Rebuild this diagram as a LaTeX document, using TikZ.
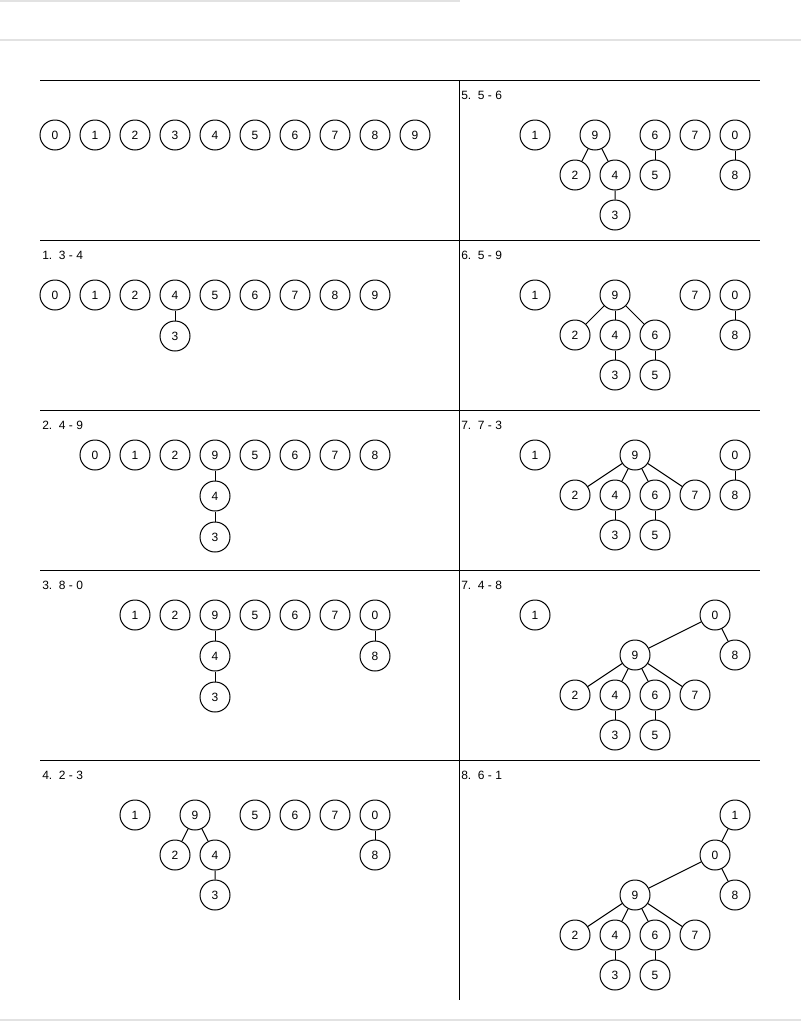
\documentclass[tikz,border=0pt]{standalone}
\usepackage{fontspec}
\setmainfont{Liberation Sans}
\usepackage{tikz}
\usetikzlibrary{positioning}
\definecolor{rule}{HTML}{E2E2E2}

\begin{document}
\begin{tikzpicture}[
  x=0.75pt,y=-0.75pt,
  font=\fontsize{9}{11}\selectfont,
  set/.style={draw,circle,minimum size=22.5pt,inner sep=0pt,line width=0.75pt},
  lbl/.style={anchor=west,inner sep=0pt},
  link/.style={draw,line width=0.75pt},
  frame/.style={draw,line width=0.75pt}
]
\useasboundingbox (0,0) rectangle (801,1021);
% ---- screen rules
\draw[rule,line width=0.9pt] (0,1) -- (460,1);
\draw[rule,line width=0.9pt] (0,40) -- (801,40);
\draw[rule,line width=0.9pt] (0,1020) -- (801,1020);

% ---- grid
\coordinate (gtl) at (40,80);
\coordinate (gtr) at (760,80);
\coordinate (gtop) at (459,80);
\coordinate (gbot) at (459,1000);
\draw[frame] (gtl) -- (gtr);
\foreach \yy in {240,410,570,760}
  \draw[frame] (40,\yy) -- (760,\yy);
\draw[frame] (gtop) -- (gbot);

% ---- panel 0: start
\foreach \v [count=\i from 0] in {0,...,9}
  \node[set] (a\v) at (55+40*\i,135) {\v};

% ---- panel 1: 3 - 4
\node[lbl] (l1) at (42,255) {1.\hspace{5pt}3 - 4};
\foreach \v [count=\i from 0] in {0,1,2,4,5,6,7,8,9}
  \node[set] (b\v) at (55+40*\i,295) {\v};
\node[set,below=7.5pt of b4] (b3) {3};
\draw[link] (b4) -- (b3);

% ---- panel 2: 4 - 9
\node[lbl] (l2) at (42,425) {2.\hspace{5pt}4 - 9};
\foreach \v [count=\i from 0] in {0,1,2,9,5,6,7,8}
  \node[set] (c\v) at (95+40*\i,455) {\v};
\node[set,below=7.5pt of c9] (c4) {4};
\node[set,below=7.5pt of c4] (c3) {3};
\draw[link] (c9) -- (c4) -- (c3);

% ---- panel 3: 8 - 0
\node[lbl] (l3) at (42,585) {3.\hspace{5pt}8 - 0};
\foreach \v [count=\i from 0] in {1,2,9,5,6,7,0}
  \node[set] (d\v) at (135+40*\i,615) {\v};
\node[set,below=7.5pt of d9] (d4) {4};
\node[set,below=7.5pt of d4] (d3) {3};
\node[set,below=7.5pt of d0] (d8) {8};
\draw[link] (d9) -- (d4) -- (d3);
\draw[link] (d0) -- (d8);

% ---- panel 4: 2 - 3
\node[lbl] (l4) at (42,775) {4.\hspace{5pt}2 - 3};
\node[set] (e1) at (135,815) {1};
\node[set] (e9) at (195,815) {9};
\foreach \v [count=\i from 0] in {5,6,7,0}
  \node[set] (e\v) at (255+40*\i,815) {\v};
\node[set] (e2) at (175,855) {2};
\node[set] (e4) at (215,855) {4};
\node[set] (e3) at (215,895) {3};
\node[set] (e8) at (375,855) {8};
\draw[link] (e9) -- (e2);
\draw[link] (e9) -- (e4) -- (e3);
\draw[link] (e0) -- (e8);

% ---- panel 5: 5 - 6
\node[lbl] (l5) at (461,95) {5.\hspace{5pt}5 - 6};
\node[set] (f1) at (535,135) {1};
\node[set] (f9) at (595,135) {9};
\node[set] (f6) at (655,135) {6};
\node[set] (f7) at (695,135) {7};
\node[set] (f0) at (735,135) {0};
\node[set] (f2) at (575,175) {2};
\node[set] (f4) at (615,175) {4};
\node[set] (f5) at (655,175) {5};
\node[set] (f8) at (735,175) {8};
\node[set] (f3) at (615,215) {3};
\draw[link] (f9) -- (f2);
\draw[link] (f9) -- (f4) -- (f3);
\draw[link] (f6) -- (f5);
\draw[link] (f0) -- (f8);

% ---- panel 6: 5 - 9
\node[lbl] (l6) at (461,255) {6.\hspace{5pt}5 - 9};
\node[set] (g1) at (535,295) {1};
\node[set] (g9) at (615,295) {9};
\node[set] (g7) at (695,295) {7};
\node[set] (g0) at (735,295) {0};
\node[set] (g2) at (575,335) {2};
\node[set] (g4) at (615,335) {4};
\node[set] (g6) at (655,335) {6};
\node[set] (g8) at (735,335) {8};
\node[set] (g3) at (615,375) {3};
\node[set] (g5) at (655,375) {5};
\foreach \k in {2,4,6}
  \draw[link] (g9) -- (g\k);
\draw[link] (g4) -- (g3);
\draw[link] (g6) -- (g5);
\draw[link] (g0) -- (g8);

% ---- panel 7: 7 - 3
\node[lbl] (l7) at (461,425) {7.\hspace{5pt}7 - 3};
\node[set] (h1) at (535,455) {1};
\node[set] (h9) at (635,455) {9};
\node[set] (h0) at (735,455) {0};
\foreach \v [count=\i from 0] in {2,4,6,7,8}
  \node[set] (h\v) at (575+40*\i,495) {\v};
\node[set] (h3) at (615,535) {3};
\node[set] (h5) at (655,535) {5};
\foreach \k in {2,4,6,7}
  \draw[link] (h9) -- (h\k);
\draw[link] (h4) -- (h3);
\draw[link] (h6) -- (h5);
\draw[link] (h0) -- (h8);

% ---- panel 8: 4 - 8
\node[lbl] (l8) at (461,585) {7.\hspace{5pt}4 - 8};
\node[set] (i1) at (535,615) {1};
\node[set] (i0) at (715,615) {0};
\node[set] (i9) at (635,655) {9};
\node[set] (i8) at (735,655) {8};
\foreach \v [count=\i from 0] in {2,4,6,7}
  \node[set] (i\v) at (575+40*\i,695) {\v};
\node[set] (i3) at (615,735) {3};
\node[set] (i5) at (655,735) {5};
\draw[link] (i0) -- (i9);
\draw[link] (i0) -- (i8);
\foreach \k in {2,4,6,7}
  \draw[link] (i9) -- (i\k);
\draw[link] (i4) -- (i3);
\draw[link] (i6) -- (i5);

% ---- panel 9: 6 - 1
\node[lbl] (l9) at (461,775) {8.\hspace{5pt}6 - 1};
\node[set] (j1) at (735,815) {1};
\node[set] (j0) at (715,855) {0};
\node[set] (j9) at (635,895) {9};
\node[set] (j8) at (735,895) {8};
\foreach \v [count=\i from 0] in {2,4,6,7}
  \node[set] (j\v) at (575+40*\i,935) {\v};
\node[set] (j3) at (615,975) {3};
\node[set] (j5) at (655,975) {5};
\draw[link] (j1) -- (j0);
\draw[link] (j0) -- (j9);
\draw[link] (j0) -- (j8);
\foreach \k in {2,4,6,7}
  \draw[link] (j9) -- (j\k);
\draw[link] (j4) -- (j3);
\draw[link] (j6) -- (j5);
\end{tikzpicture}
\end{document}
